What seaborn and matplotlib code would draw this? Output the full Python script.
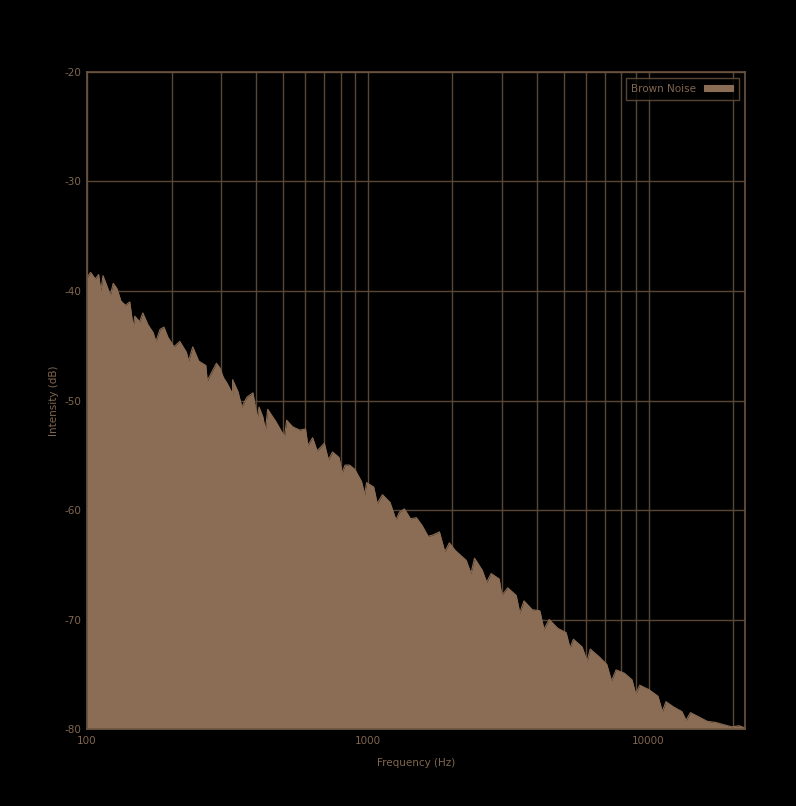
import matplotlib
matplotlib.use("Agg")
import matplotlib.pyplot as plt
from matplotlib.patches import Patch
from matplotlib.ticker import FixedLocator, FixedFormatter, NullFormatter
import numpy as np
import pandas as pd
import seaborn as sns

# spectrum top edge (Hz, dB)
FREQ_HZ = [
    100, 103, 107, 110, 114, 118, 121, 124, 128, 132, 137, 142, 148, 154, 158,
    165, 172, 182, 188, 194, 204, 214, 226, 238, 250, 265, 281, 289, 297, 306,
    315, 330, 345, 371, 390, 410, 423, 440, 470, 514, 540, 572, 600, 636, 660,
    700, 749, 790, 830, 861, 900, 950, 990, 1050, 1128, 1200, 1296, 1350, 1420,
    1490, 1560, 1698, 1800, 1952, 2050, 2243, 2400, 2557, 2750, 2939, 3150,
    3378, 3600, 3850, 4100, 4425, 4750, 5087, 5400, 5799, 6200, 6665, 7100,
    7659, 8200, 8730, 9300, 10030, 10800, 11530, 12300, 13140, 14100, 15110,
    16200, 17360, 18500, 19800, 21000, 22050,
]
INTENSITY_DB = [
    -38.8, -38.3, -38.9, -38.5, -38.6, -39.6, -40.4, -39.3, -39.8, -40.9, -41.3,
    -41.0, -42.3, -42.8, -42.0, -43.1, -43.8, -43.5, -43.3, -44.2, -45.1, -44.6,
    -45.6, -45.1, -46.4, -46.8, -47.2, -46.6, -47.0, -47.9, -48.4, -48.1, -49.2,
    -49.7, -49.3, -50.6, -51.5, -50.8, -51.9, -51.8, -52.4, -52.7, -52.6, -53.4,
    -54.6, -53.9, -54.7, -55.2, -55.9, -55.9, -56.3, -57.4, -57.5, -57.9, -58.6,
    -59.3, -60.2, -59.9, -60.8, -60.7, -61.4, -62.3, -62.0, -63.0, -63.7, -64.6,
    -64.4, -65.5, -65.8, -66.3, -67.1, -67.8, -68.3, -69.1, -69.2, -70.0, -70.8,
    -71.2, -71.8, -72.5, -72.7, -73.4, -74.1, -74.6, -74.9, -75.5, -76.0, -76.4,
    -77.0, -77.5, -78.0, -78.4, -78.5, -78.9, -79.3, -79.4, -79.6, -79.8, -79.7,
    -79.9,
]
# narrow downward spikes in the edge (Hz, dB)
DIP_HZ = [112, 146, 176, 230, 268, 330, 356, 404, 432, 505, 612, 724, 810, 975,
          1080, 1260, 1640, 1880, 2330, 2650, 3000, 3480, 4240, 5250, 6040,
          7380, 9000, 11200, 13600]
DIP_DB = [-40.0, -43.3, -44.6, -46.4, -48.2, -49.4, -50.6, -51.6, -52.7, -53.3,
          -54.1, -55.4, -56.6, -58.6, -59.4, -60.9, -62.4, -63.8, -65.8, -66.6,
          -67.8, -69.4, -70.9, -72.6, -73.8, -75.6, -76.8, -78.4, -79.2]

BG = "#000000"
FILL = "#8b6d55"
FRAME = "#6b5541"
GRID = "#5a4735"
TEXT = "#80664f"

sns.set_theme(style="dark", context="paper")
plt.rcParams["font.family"] = ["DejaVu Sans"]
plt.rcParams["axes.unicode_minus"] = False


def main():
    df = pd.DataFrame({"freq": FREQ_HZ + DIP_HZ, "db": INTENSITY_DB + DIP_DB})
    df = df.sort_values("freq").reset_index(drop=True)

    fig = plt.figure(figsize=(7.96, 8.06), dpi=100, facecolor=BG)
    ax = fig.add_axes([0.1093, 0.0955, 0.8266, 0.8152])
    ax.set_facecolor(BG)

    ax.fill_between(df["freq"], -80, df["db"], color=FILL, linewidth=0, zorder=2)
    sns.lineplot(data=df, x="freq", y="db", ax=ax, color=FILL, linewidth=0.8,
                 zorder=3, estimator=None, sort=False)

    ax.set_xscale("log")
    ax.set_xlim(100, 22050)
    ax.set_ylim(-80, -20)

    major = [100, 1000, 10000]
    minor = [m * d for d in (100, 1000, 10000) for m in range(2, 10)
             if m * d <= 22050]
    ax.xaxis.set_major_locator(FixedLocator(major))
    ax.xaxis.set_major_formatter(FixedFormatter([str(v) for v in major]))
    ax.xaxis.set_minor_locator(FixedLocator(minor))
    ax.xaxis.set_minor_formatter(NullFormatter())
    ax.set_yticks(range(-80, -19, 10))
    ax.set_yticklabels([str(v) for v in range(-80, -19, 10)])

    ax.grid(True, which="both", axis="x", color=GRID, linewidth=1, zorder=1)
    ax.grid(True, which="major", axis="y", color=GRID, linewidth=1, zorder=1)
    ax.set_axisbelow(True)

    ax.tick_params(which="both", length=0, colors=TEXT, labelsize=7.5)
    ax.tick_params(axis="x", pad=5)
    ax.tick_params(axis="y", pad=4)
    for s in ax.spines.values():
        s.set_color(FRAME)
        s.set_linewidth(1.2)
        s.set_visible(True)
        s.set_zorder(4)

    ax.set_xlabel("Frequency (Hz)", color=TEXT, fontsize=7.5, labelpad=9)
    ax.set_ylabel("Intensity (dB)", color=TEXT, fontsize=7.5, labelpad=4)

    handles = [Patch(facecolor=FILL, edgecolor=FILL, label="Brown Noise")]
    leg = ax.legend(handles=handles, loc="upper right", markerfirst=False,
                    frameon=True, fancybox=False, fontsize=7.5,
                    handlelength=2.8, handleheight=0.5, borderpad=0.55,
                    handletextpad=0.7, borderaxespad=0.3,
                    bbox_to_anchor=(0.995, 0.995))
    leg.get_frame().set_facecolor(BG)
    leg.get_frame().set_edgecolor(FRAME)
    leg.get_frame().set_linewidth(1)
    for t in leg.get_texts():
        t.set_color(TEXT)

    fig.savefig("out.png", dpi=100, facecolor=BG)
    plt.close(fig)


if __name__ == "__main__":
    main()
